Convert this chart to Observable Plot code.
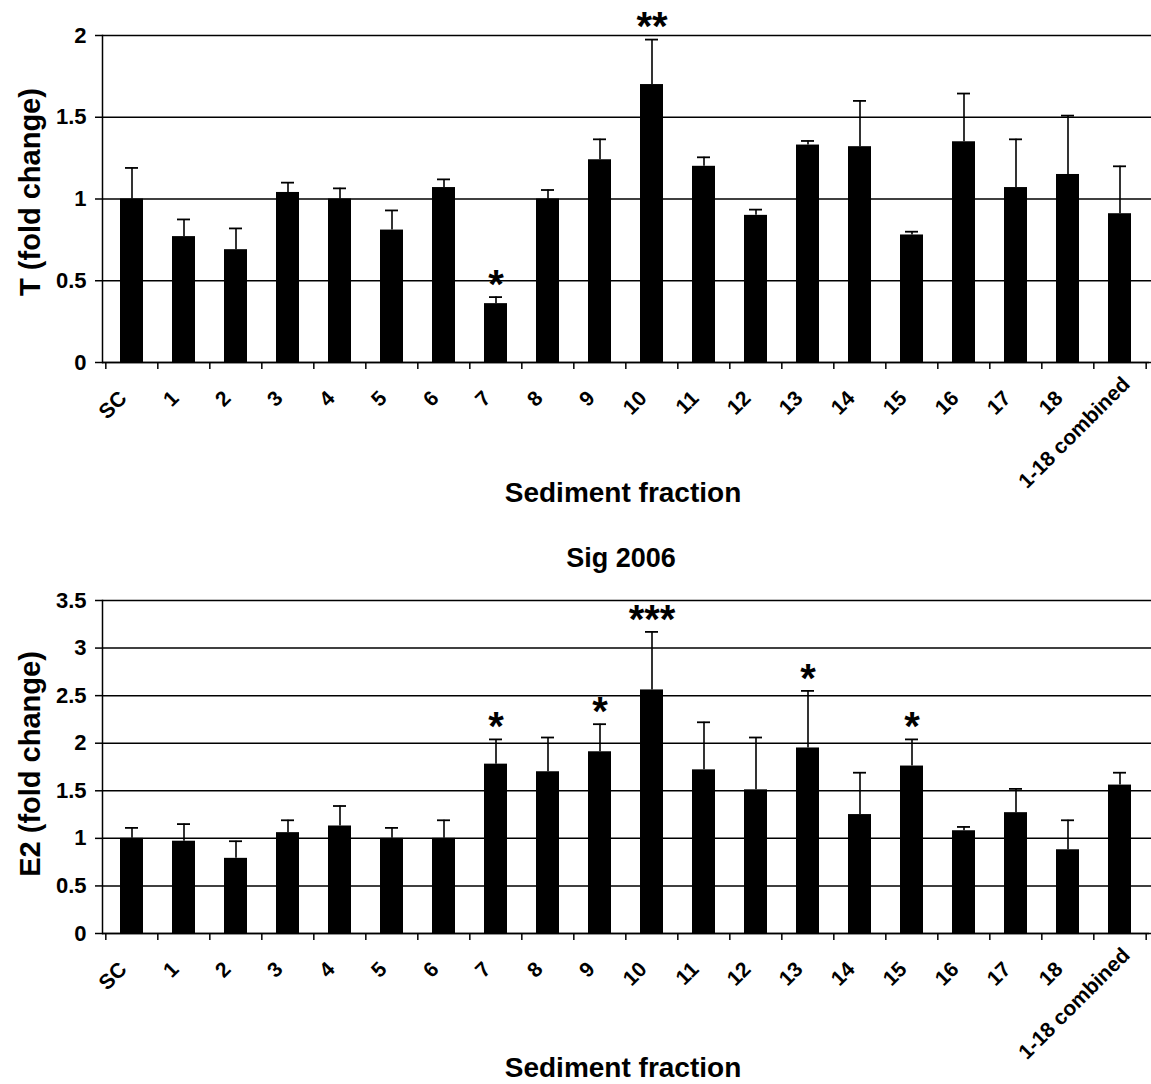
<!DOCTYPE html>
<html>
<head>
<meta charset="utf-8">
<script src="https://cdn.jsdelivr.net/npm/d3@7"></script>
<script src="https://cdn.jsdelivr.net/npm/@observablehq/plot@0.6"></script>
<style>
  html, body { margin: 0; padding: 0; background: white; }
  #chart { width: 1151px; }
  #chart svg { display: block; }
</style>
</head>
<body>
<div id="chart"></div>
<script>
const categories = ["SC","1","2","3","4","5","6","7","8","9","10","11","12","13","14","15","16","17","18","1-18 combined"];

// Top panel: T (fold change)
const tMean = [1.00,0.77,0.69,1.04,1.00,0.81,1.07,0.36,1.00,1.24,1.70,1.20,0.90,1.33,1.32,0.78,1.35,1.07,1.15,0.91];
const tErr  = [0.19,0.105,0.13,0.06,0.065,0.12,0.05,0.04,0.055,0.125,0.275,0.055,0.035,0.025,0.28,0.02,0.295,0.295,0.36,0.29];
const tSig  = ["","","","","","","","*","","","**","","","","","","","","",""];
const tTicks = [0,0.5,1,1.5,2];

// Bottom panel: E2 (fold change), "Sig 2006"
const e2Mean = [1.00,0.97,0.79,1.06,1.13,1.00,1.00,1.78,1.70,1.91,2.56,1.72,1.51,1.95,1.25,1.76,1.08,1.27,0.88,1.56];
const e2Err  = [0.11,0.18,0.18,0.13,0.21,0.11,0.19,0.26,0.36,0.29,0.61,0.50,0.55,0.60,0.44,0.28,0.04,0.25,0.31,0.13];
const e2Sig  = ["","","","","","","","*","","*","***","","","*","","*","","","",""];
const e2Ticks = [0,0.5,1,1.5,2,2.5,3,3.5];

const FONT = "'Liberation Sans', Arial, Helvetica, sans-serif";

function panel({means, errs, sigs, ticks, yLabel, title, height, marginTop, marginBottom, xLabelDy, yLabelDy}) {
  const data = categories.map((c, i) => ({cat: c, mean: means[i], upper: means[i] + errs[i], sig: sigs[i]}));
  const last = categories[categories.length - 1];
  const innerW = 1151 - 102 - 2;
  const step = innerW / categories.length;
  const marks = [
    Plot.gridY(ticks, {stroke: "black", strokeOpacity: 1, strokeWidth: 1.5, insetRight: -2}),
    Plot.barY(data, {x: "cat", y: "mean", fill: "black"}),
    Plot.ruleX(data, {x: "cat", y1: "mean", y2: "upper", stroke: "black", strokeWidth: 1.6}),
    Plot.tickY(data, {x: "cat", y: "upper", stroke: "black", strokeWidth: 1.8, inset: 5}),
    Plot.text(data.filter(d => d.sig), {x: "cat", y: "upper", text: "sig", dy: -12, fontSize: 40, fontWeight: "bold", fill: "black", lineAnchor: "middle"}),
    Plot.ruleY([0], {stroke: "black", strokeWidth: 1.5}),
    Plot.frame({anchor: "left", stroke: "black", strokeWidth: 1.5}),
    Plot.axisY({ticks, tickSize: 7, tickPadding: 9, fontSize: 22, fontWeight: "bold", tickFormat: d => String(d), label: null, stroke: "black", strokeWidth: 1.5}),
    Plot.axisX({tickSize: 7, dx: -step / 2, tickFormat: () => "", label: null, stroke: "black", strokeWidth: 1.5}),
    Plot.axisX({ticks: [last], tickSize: 7, dx: step / 2, tickFormat: () => "", label: null, stroke: "black", strokeWidth: 1.5}),
    Plot.text(data.filter(d => d.cat !== last), {x: "cat", text: "cat", frameAnchor: "bottom", lineAnchor: "bottom", rotate: -45, textAnchor: "end", dx: -4, dy: 37, fontSize: 21, fontWeight: "bold", fill: "black"}),
    Plot.text(data.filter(d => d.cat === last), {x: "cat", text: "cat", frameAnchor: "bottom", lineAnchor: "bottom", rotate: -45, textAnchor: "end", dx: 11, dy: 23, fontSize: 21, fontWeight: "bold", fill: "black"}),
    Plot.text(["Sediment fraction"], {frameAnchor: "bottom", lineAnchor: "middle", textAnchor: "middle", dx: -3, dy: xLabelDy, fontSize: 28, fontWeight: "bold", fill: "black"}),
    Plot.text([yLabel], {frameAnchor: "left", lineAnchor: "middle", textAnchor: "middle", rotate: -90, dx: -72, dy: yLabelDy, fontSize: 29, fontWeight: "bold", fill: "black"})
  ];
  if (title) {
    marks.push(Plot.text([title], {frameAnchor: "top", lineAnchor: "middle", textAnchor: "middle", dx: -5, dy: -42, fontSize: 27, fontWeight: "bold", fill: "black"}));
  }
  return Plot.plot({
    width: 1151,
    height,
    marginLeft: 102,
    marginRight: 2,
    marginTop,
    marginBottom,
    style: {fontFamily: FONT, color: "black", background: "white", overflow: "visible"},
    x: {domain: categories, paddingInner: 0.56, paddingOuter: 0.28},
    y: {domain: [0, ticks[ticks.length - 1]]},
    marks
  });
}

const root = document.getElementById("chart");
root.appendChild(panel({
  means: tMean, errs: tErr, sigs: tSig, ticks: tTicks,
  yLabel: "T (fold change)", title: null,
  height: 520, marginTop: 35, marginBottom: 158, xLabelDy: 131, yLabelDy: -7
}));
root.appendChild(panel({
  means: e2Mean, errs: e2Err, sigs: e2Sig, ticks: e2Ticks,
  yLabel: "E2 (fold change)", title: "Sig 2006",
  height: 564, marginTop: 80, marginBottom: 151, xLabelDy: 135, yLabelDy: -3
}));
</script>
</body>
</html>
